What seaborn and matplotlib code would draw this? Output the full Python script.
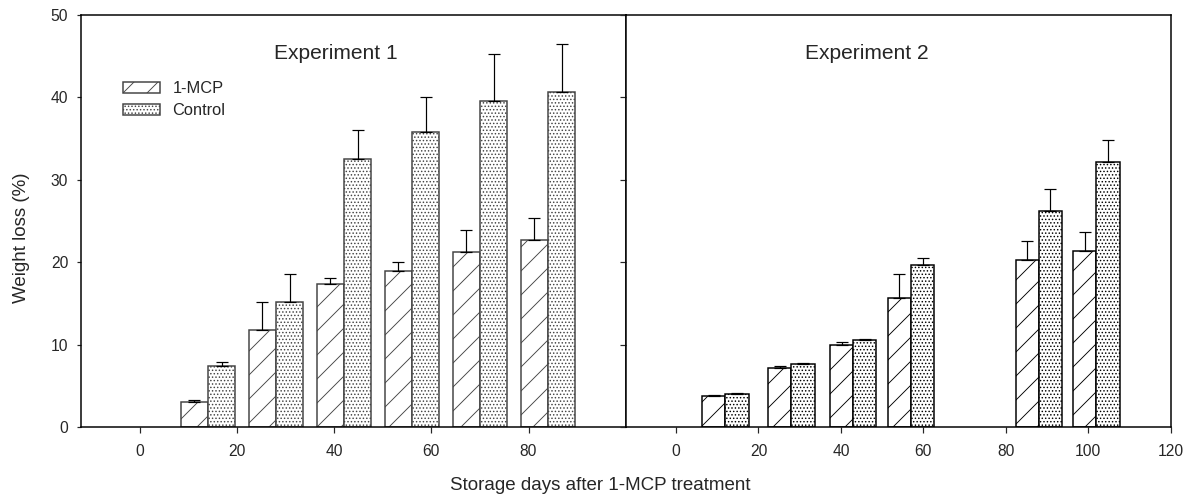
import numpy as np
import pandas as pd
import matplotlib
matplotlib.use("Agg")
import matplotlib.pyplot as plt
import seaborn as sns
from matplotlib.patches import Patch

# Experiment 1
days_exp1 = [14, 28, 42, 56, 70, 84]
mcp_exp1 = [3.0, 11.8, 17.4, 18.9, 21.2, 22.7]
mcp_err_exp1 = [0.25, 3.4, 0.7, 1.1, 2.7, 2.7]
control_exp1 = [7.4, 15.2, 32.5, 35.8, 39.5, 40.6]
control_err_exp1 = [0.45, 3.4, 3.5, 4.2, 5.7, 5.8]

# Experiment 2
days_exp2 = [12, 28, 43, 57, 88, 102]
mcp_exp2 = [3.75, 7.1, 9.9, 15.7, 20.2, 21.35]
mcp_err_exp2 = [0.15, 0.3, 0.45, 2.9, 2.4, 2.3]
control_exp2 = [4.05, 7.7, 10.55, 19.6, 26.2, 32.15]
control_err_exp2 = [0.1, 0.12, 0.12, 0.85, 2.7, 2.7]

groups = ["1-MCP", "Control"]
hatches = ["//", "......."]
y_ticks = [0, 10, 20, 30, 40, 50]

sns.set_theme(style="ticks")
plt.rcParams["font.family"] = ["Liberation Sans", "DejaVu Sans"]
plt.rcParams["hatch.linewidth"] = 0.45
plt.rcParams["hatch.color"] = "black"
plt.rcParams["axes.edgecolor"] = "black"
plt.rcParams["axes.linewidth"] = 0.75


def draw_panel(ax, days, mcp, mcp_err, ctrl, ctrl_err, edge):
    df = pd.DataFrame({
        "day": days + days,
        "loss": mcp + ctrl,
        "group": ["1-MCP"] * len(days) + ["Control"] * len(days),
    })
    sns.barplot(data=df, x="day", y="loss", hue="group", hue_order=groups,
                native_scale=True, errorbar=None, palette=["white", "white"],
                saturation=1, edgecolor=edge, linewidth=0.75, legend=False, ax=ax)
    bar_conts = list(ax.containers[:2])
    for cont, hatch, err in zip(bar_conts, hatches, [mcp_err, ctrl_err]):
        xs, ys = [], []
        for p in cont:
            p.set_hatch(hatch)
            xs.append(p.get_x() + p.get_width() / 2)
            ys.append(p.get_height())
        ax.errorbar(xs, ys, yerr=[np.zeros(len(err)), err], fmt="none",
                    ecolor="black", elinewidth=0.6, capsize=2.8, capthick=0.6,
                    zorder=3)
    ax.set_ylim(0, 50)
    ax.set_yticks(y_ticks)
    ax.set_xlabel("")
    ax.set_ylabel("")
    ax.tick_params(axis="x", length=2.8, width=0.6, pad=5.5, labelsize=7.8)
    ax.tick_params(axis="y", length=2.2, width=0.6, pad=4, labelsize=7.8)


fig = plt.figure(figsize=(1190 / 144, 499 / 144), dpi=144)
ax1 = fig.add_axes([80.7 / 1190, 72 / 499, 545 / 1190, 412.3 / 499])
ax2 = fig.add_axes([625.7 / 1190, 72 / 499, 545 / 1190, 412.3 / 499])

draw_panel(ax1, days_exp1, mcp_exp1, mcp_err_exp1, control_exp1, control_err_exp1, "#444444")
ax1.set_xlim(-12.2, 100)
ax1.set_xticks([0, 20, 40, 60, 80])
ax1.set_xticklabels(["0", "20", "40", "60", "80"])
ax1.text(0.468, 0.907, "Experiment 1", transform=ax1.transAxes,
         ha="center", va="center", fontsize=10.5)

draw_panel(ax2, days_exp2, mcp_exp2, mcp_err_exp2, control_exp2, control_err_exp2, "black")
ax2.set_xlim(-12.2, 120)
ax2.set_xticks([0, 20, 40, 60, 80, 100, 120])
ax2.set_xticklabels(["0", "20", "40", "60", "80", "100", "120"])
ax2.tick_params(axis="y", labelleft=False, length=2.8)
ax2.text(0.443, 0.907, "Experiment 2", transform=ax2.transAxes,
         ha="center", va="center", fontsize=10.5)

handles = [Patch(facecolor="white", edgecolor="#444444", hatch=h, linewidth=0.75, label=g)
           for g, h in zip(groups, hatches)]
ax1.legend(handles=handles, loc="upper left", bbox_to_anchor=(0.078, 0.838),
           frameon=False, fontsize=8.2, handlelength=2.25, handleheight=0.65,
           handletextpad=0.75, labelspacing=0.4, borderpad=0, borderaxespad=0)

fig.text(600 / 1190, 1 - 485 / 499, "Storage days after 1-MCP treatment",
         ha="center", va="center", fontsize=9.4)
fig.text(22 / 1190, 1 - 238 / 499, "Weight loss (%)", rotation=90,
         ha="center", va="center", fontsize=9.4)

fig.savefig("out.png", dpi=144)
